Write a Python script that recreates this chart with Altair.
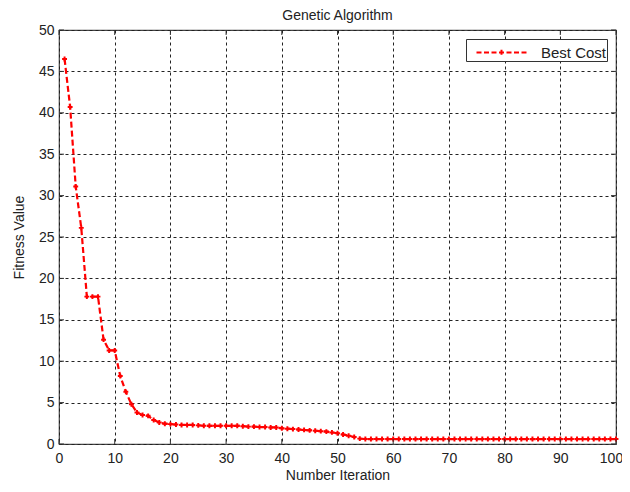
import altair as alt
import pandas as pd

iterations = list(range(1, 101))
best_cost = [
    46.5, 40.7, 31.1, 26.1, 17.8, 17.8, 17.8, 12.6, 11.3, 11.3,
    8.2, 6.3, 4.8, 3.8, 3.5, 3.4, 2.9, 2.6, 2.45, 2.4,
    2.35, 2.3, 2.3, 2.3, 2.25, 2.2, 2.2, 2.2, 2.2, 2.2,
    2.2, 2.2, 2.15, 2.1, 2.1, 2.05, 2.05, 2.0, 2.0, 1.9,
    1.85, 1.8, 1.75, 1.7, 1.65, 1.6, 1.55, 1.5, 1.4, 1.3,
    1.15, 1.0, 0.85, 0.65, 0.6, 0.6, 0.6, 0.6, 0.6, 0.6,
    0.6, 0.6, 0.6, 0.6, 0.6, 0.6, 0.6, 0.6, 0.6, 0.6,
    0.6, 0.6, 0.6, 0.6, 0.6, 0.6, 0.6, 0.6, 0.6, 0.6,
    0.6, 0.6, 0.6, 0.6, 0.6, 0.6, 0.6, 0.6, 0.6, 0.6,
    0.6, 0.6, 0.6, 0.6, 0.6, 0.6, 0.6, 0.6, 0.6, 0.6,
]
series_name = "Best Cost"
x_ticks = [0, 10, 20, 30, 40, 50, 60, 70, 80, 90, 100]
y_ticks = [0, 5, 10, 15, 20, 25, 30, 35, 40, 45, 50]

df = pd.DataFrame({"iter": iterations, "cost": best_cost, "series": series_name})
xt = pd.DataFrame({"v": x_ticks})
yt = pd.DataFrame({"v": y_ticks})

FONT = "Liberation Sans"
W, H = 557, 414
TXT = "#222"

xscale = alt.Scale(domain=[0, 100], nice=False)
yscale = alt.Scale(domain=[0, 50], nice=False)

axis_common = dict(grid=True, gridColor="#222", gridDash=[3, 3], gridOpacity=1,
                   ticks=False, domain=False, labelFont=FONT, titleFont=FONT,
                   labelFontSize=14, titleFontSize=14, labelColor=TXT,
                   titleColor=TXT, titleFontWeight="normal",
                   labelFlush=False, labelOverlap=False)

x_enc = alt.X("iter:Q", scale=xscale,
              axis=alt.Axis(values=x_ticks, title="Number Iteration",
                            labelPadding=7, titlePadding=3,
                            labelOffset={"condition": {"test": "datum.value == 100", "value": -5},
                                         "value": 0},
                            **axis_common))
y_enc = alt.Y("cost:Q", scale=yscale,
              axis=alt.Axis(values=y_ticks, title="Fitness Value",
                            labelPadding=5, titlePadding=12, **axis_common))

color_enc = alt.Color("series:N",
                      scale=alt.Scale(domain=[series_name], range=["#ff0000"]),
                      legend=alt.Legend(title=None, orient="top-right",
                                        symbolType="M-2,0H2M0,-0.22V0.22",
                                        symbolStrokeWidth=2,
                                        symbolDash=[5, 2.5], symbolSize=625,
                                        symbolOffset=22, labelOffset=26,
                                        labelFontSize=15, labelFont=FONT,
                                        labelColor=TXT,
                                        strokeColor="#333", fillColor="white",
                                        padding=0, offset=9))

line = alt.Chart(df).mark_line(strokeWidth=2.2, strokeDash=[6, 3]).encode(
    x=x_enc, y=y_enc, color=color_enc)
pts = alt.Chart(df).mark_point(shape="cross", filled=True, size=24, opacity=1).encode(
    x=alt.X("iter:Q", scale=xscale), y=alt.Y("cost:Q", scale=yscale),
    color=alt.Color("series:N", scale=alt.Scale(domain=[series_name], range=["#ff0000"]),
                    legend=None))

tick_col = "#333"
bx = alt.Chart(xt).mark_rule(color=tick_col).encode(
    x=alt.X("v:Q", scale=xscale), y=alt.value(H - 5), y2=alt.value(H))
tx = alt.Chart(xt).mark_rule(color=tick_col).encode(
    x=alt.X("v:Q", scale=xscale), y=alt.value(0), y2=alt.value(5))
ly = alt.Chart(yt).mark_rule(color=tick_col).encode(
    y=alt.Y("v:Q", scale=yscale), x=alt.value(0), x2=alt.value(5))
ry = alt.Chart(yt).mark_rule(color=tick_col).encode(
    y=alt.Y("v:Q", scale=yscale), x=alt.value(W - 5), x2=alt.value(W))

chart = alt.layer(line, pts, bx, tx, ly, ry).properties(
    width=W, height=H,
    background="white",
    title=alt.Title("Genetic Algorithm", fontSize=14, font=FONT, fontWeight="normal",
                    color=TXT, offset=0),
    autosize=alt.AutoSizeParams(type="none"),
    padding={"left": 51, "top": 22, "right": 6, "bottom": 40},
).configure_view(stroke="#444", strokeWidth=1.2)

chart.save("out.html", embed_options={"renderer": "svg", "actions": False})
